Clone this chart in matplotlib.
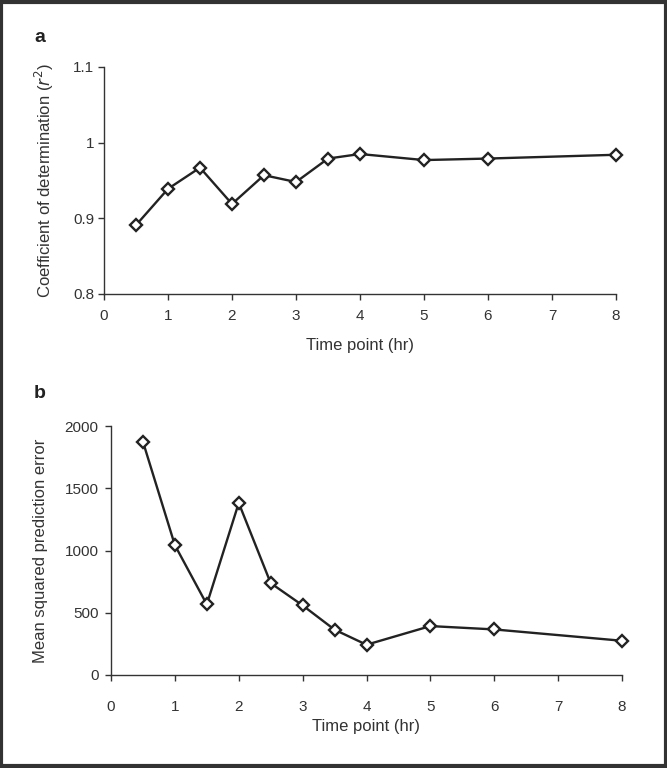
import matplotlib
matplotlib.use("Agg")
import matplotlib.pyplot as plt
from matplotlib.patches import Rectangle

plt.rcParams['font.family'] = ['Liberation Sans', 'DejaVu Sans']

time_points = [0.5, 1, 1.5, 2, 2.5, 3, 3.5, 4, 5, 6, 8]
r2_values = [0.891, 0.939, 0.967, 0.919, 0.957, 0.948, 0.979, 0.985, 0.977, 0.979, 0.984]
mspe_values = [1874, 1043, 567, 1382, 738, 559, 364, 243, 393, 366, 275]

x_ticks = [0, 1, 2, 3, 4, 5, 6, 7, 8]
r2_ticks = [0.8, 0.9, 1.0, 1.1]
r2_tick_labels = ['0.8', '0.9', '1', '1.1']
mspe_ticks = [0, 500, 1000, 1500, 2000]

W, H = 667, 768
fig = plt.figure(figsize=(W / 100, H / 100), dpi=100)
fig.patch.set_facecolor('white')
fig.patches.append(Rectangle((0.002, 0.002), 0.996, 0.996, transform=fig.transFigure,
                             fill=False, edgecolor='#333333', linewidth=3))

def ax_rect(l, t, r, b):
    return [l / W, 1 - b / H, (r - l) / W, (b - t) / H]

ax1 = fig.add_axes(ax_rect(104, 67, 616, 294))
ax2 = fig.add_axes(ax_rect(111, 426, 622, 675))

line_color = '#222222'
text_color = '#333333'
for ax in (ax1, ax2):
    for s in ('top', 'right'):
        ax.spines[s].set_visible(False)
    for s in ('left', 'bottom'):
        ax.spines[s].set_color('#333333')
        ax.spines[s].set_linewidth(1.0)
    ax.tick_params(direction='out', length=4, width=1, color='#333333',
                   labelsize=11, labelcolor=text_color)
    ax.set_xlim(0, 8)
    ax.set_xticks(x_ticks)
    ax.set_xticklabels([str(t) for t in x_ticks])

ax1.plot(time_points, r2_values, color=line_color, linewidth=1.7, marker='D',
         markersize=6.5, markerfacecolor='white', markeredgecolor=line_color,
         markeredgewidth=1.7, clip_on=False)
ax1.set_ylim(0.8, 1.1)
ax1.set_yticks(r2_ticks)
ax1.set_yticklabels(r2_tick_labels)
ax1.tick_params(axis='x', pad=6.5)
ax1.tick_params(axis='y', pad=3)
ax1.set_xlabel('Time point (hr)', fontsize=12, color=text_color, labelpad=11)
ax1.set_ylabel(r'Coefficient of determination ($\mathit{r}^2$)', fontsize=12,
               color=text_color, labelpad=12)

ax2.plot(time_points, mspe_values, color=line_color, linewidth=1.7, marker='D',
         markersize=6.5, markerfacecolor='white', markeredgecolor=line_color,
         markeredgewidth=1.7, clip_on=False)
ax2.set_ylim(0, 2000)
ax2.set_yticks(mspe_ticks)
ax2.tick_params(axis='x', pad=14)
ax2.tick_params(axis='y', pad=5)
ax2.set_xlabel('Time point (hr)', fontsize=12, color=text_color, labelpad=3.5)
ax2.set_ylabel('Mean squared prediction error', fontsize=12, color=text_color, labelpad=12)

fig.text(40 / W, 1 - 38 / H, 'a', fontsize=14, fontweight='bold', color='#222222',
         ha='center', va='center')
fig.text(40 / W, 1 - 393 / H, 'b', fontsize=14, fontweight='bold', color='#222222',
         ha='center', va='center')

fig.savefig('out.png', dpi=100)
